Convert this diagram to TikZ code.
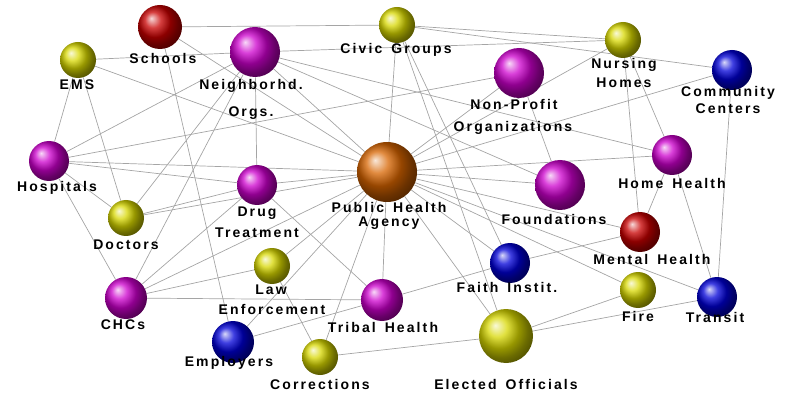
\documentclass[tikz,border=0pt]{standalone}
\usepackage{fontspec}
\usepackage{xcolor}
\usepackage{tikz}
\usetikzlibrary{backgrounds}
\newfontfamily\lblfont[LetterSpace=15,WordSpace=1.5]{Liberation Sans}
\definecolor{magcol}{RGB}{205,0,205}
\definecolor{yelcol}{RGB}{215,215,0}
\definecolor{redcol}{RGB}{200,0,0}
\definecolor{blucol}{RGB}{0,0,215}
\definecolor{orgcol}{RGB}{215,100,0}
\definecolor{linkgray}{RGB}{165,165,165}

\begin{document}
\begin{tikzpicture}[x=1pt, y=-1pt,
    ball/.style={circle, inner sep=0pt, shading=ball},
    magball/.style={ball, ball color=magcol},
    yelball/.style={ball, ball color=yelcol},
    redball/.style={ball, ball color=redcol},
    bluball/.style={ball, ball color=blucol},
    orgball/.style={ball, ball color=orgcol},
    link/.style={draw=linkgray, line width=0.7pt},
    lbl/.style={font=\lblfont\bfseries\fontsize{14}{14}\selectfont, inner sep=0pt}]
    \useasboundingbox (0,0) rectangle (787,398);
    % balls
    \node[redball, minimum size=44] (schools) at (160,27) {};
    \node[yelball, minimum size=36] (ems) at (78,60) {};
    \node[magball, minimum size=50] (nbhd) at (255,52) {};
    \node[yelball, minimum size=36] (civic) at (397,25) {};
    \node[magball, minimum size=50] (nonprofit) at (519,73) {};
    \node[yelball, minimum size=36] (nursing) at (623,40) {};
    \node[bluball, minimum size=40] (commctr) at (732,70) {};
    \node[magball, minimum size=40] (hosp) at (49,161) {};
    \node[magball, minimum size=40] (homehlth) at (672,155) {};
    \node[orgball, minimum size=60] (pha) at (387,172) {};
    \node[magball, minimum size=40] (drug) at (257,185) {};
    \node[magball, minimum size=50] (found) at (560,185) {};
    \node[yelball, minimum size=36] (doctors) at (126,218) {};
    \node[redball, minimum size=40] (mental) at (640,232) {};
    \node[yelball, minimum size=36] (law) at (272,266) {};
    \node[bluball, minimum size=40] (faith) at (510,263) {};
    \node[magball, minimum size=42] (chcs) at (126,298) {};
    \node[magball, minimum size=42] (tribal) at (382,300) {};
    \node[yelball, minimum size=36] (fire) at (638,290) {};
    \node[bluball, minimum size=40] (transit) at (717,297) {};
    \node[bluball, minimum size=42] (employers) at (233,342) {};
    \node[yelball, minimum size=36] (correct) at (320,357) {};
    \node[yelball, minimum size=54] (elected) at (506,336) {};
    % labels
    \node[lbl] (schools-t) at (163,58) {Schools};
    \node[lbl] (ems-t) at (77,85) {EMS};
    \node[lbl] (nbhd-t) at (251,86) {Neighborhd.};
    \node[lbl] (nbhd-t2) at (251,113) {Orgs.};
    \node[lbl] (civic-t) at (396,50) {Civic Groups};
    \node[lbl] (nonprofit-t) at (514,104) {Non-Profit};
    \node[lbl] (nonprofit-t2) at (513,128) {Organizations};
    \node[lbl] (nursing-t) at (624,65) {Nursing};
    \node[lbl] (nursing-t2) at (624,83) {Homes};
    \node[lbl] (commctr-t) at (728,93) {Community};
    \node[lbl] (commctr-t2) at (728,109) {Centers};
    \node[lbl] (hosp-t) at (57,188) {Hospitals};
    \node[lbl] (homehlth-t) at (672,183) {Home Health};
    \node[lbl] (pha-t) at (389,207) {Public Health};
    \node[lbl] (pha-t2) at (389,223) {Agency};
    \node[lbl] (drug-t) at (257,213) {Drug};
    \node[lbl] (drug-t2) at (257,233) {Treatment};
    \node[lbl] (found-t) at (554,219) {Foundations};
    \node[lbl] (doctors-t) at (126,245) {Doctors};
    \node[lbl] (mental-t) at (652,259) {Mental Health};
    \node[lbl] (law-t) at (271,290) {Law};
    \node[lbl] (law-t2) at (272,309) {Enforcement};
    \node[lbl] (faith-t) at (507,287) {Faith Instit.};
    \node[lbl] (chcs-t) at (123,325) {CHCs};
    \node[lbl] (tribal-t) at (383,327) {Tribal Health};
    \node[lbl] (fire-t) at (638,316) {Fire};
    \node[lbl] (transit-t) at (715,317) {Transit};
    \node[lbl] (employers-t) at (229,363) {Employers};
    \node[lbl] (correct-t) at (320,384) {Corrections};
    \node[lbl] (elected-t) at (506,384) {Elected Officials};
    % links
    \begin{pgfonlayer}{background}
    \foreach \a/\b in {schools/civic, schools/employers, schools/pha,
        ems/nbhd, ems/hosp, ems/doctors, ems/pha,
        nbhd/nursing, nbhd/homehlth, nbhd/drug, nbhd/hosp, nbhd/doctors,
        nbhd/chcs, nbhd/pha, nbhd/found,
        civic/nursing, civic/commctr, civic/pha, civic/faith, civic/elected,
        nonprofit/hosp, nonprofit/found, nonprofit/pha,
        nursing/pha, nursing/homehlth, nursing/mental,
        commctr/pha, commctr/transit,
        homehlth/transit, homehlth/mental, homehlth/pha,
        hosp/pha, hosp/drug, hosp/doctors, hosp/chcs,
        doctors/drug, doctors/pha,
        chcs/drug, chcs/pha, chcs/tribal, chcs/law,
        drug/pha, drug/tribal,
        law/pha, law/correct,
        employers/pha, employers/tribal,
        correct/elected, correct/pha,
        tribal/pha, tribal/faith,
        faith/pha, faith/mental,
        mental/pha, found/pha,
        fire/pha, fire/elected,
        elected/transit, elected/pha, transit/pha}
      \draw[link] (\a) -- (\b);
    \end{pgfonlayer}
\end{tikzpicture}
\end{document}
